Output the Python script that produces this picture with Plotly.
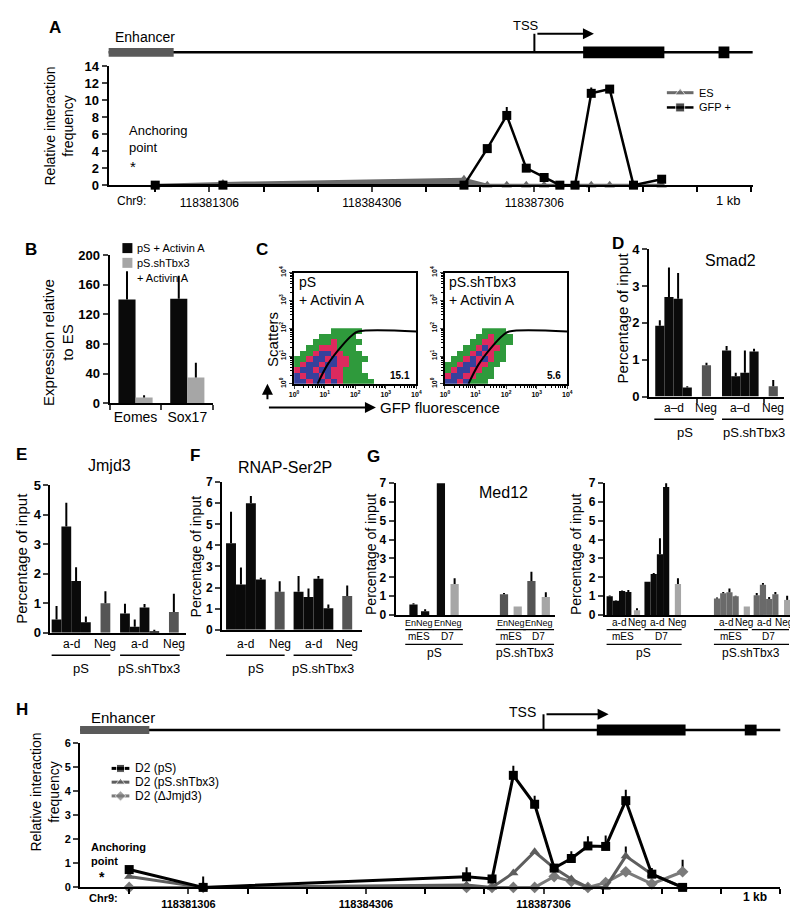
import numpy as np
import plotly.graph_objects as go

W, H = 798, 911
FONT = 'Liberation Sans'

# ---------------- data ----------------
# A / H: 3C fragments, position in kb relative to Chr9:118381306
frag_kb = [-1.0, 0.25, 4.7, 5.13, 5.49, 5.85, 6.18, 6.47, 6.75, 7.05, 7.39, 7.83, 8.35]
a_es = [0, 0.2, 0.7, 0, 0, 0, 0, 0, 0, 0, 0, 0, 0]
a_gfp = [0, 0, 0, 4.3, 8.2, 2.0, 0.9, 0, 0, 10.8, 11.3, 0, 0.7]
a_gfp_err = [0, 0, 0, 0.4, 1.0, 0, 0, 0, 0, 0.7, 0.3, 0, 0.2]

h_ps = [0.74, 0, 0.44, 0.35, 4.65, 3.45, 0.8, 1.2, 1.72, 1.7, 3.6, 0.55, 0]
h_ps_err = [0.05, 0.45, 0.4, 0, 0.4, 0.35, 0, 0.3, 0.4, 0.45, 0.45, 0.25, 0]
h_tbx = [0.45, 0, 0.1, 0, 0.6, 1.48, 0.8, 0.35, 0, 0, 1.3, 0.55, 0]
h_tbx_err = [0, 0, 0, 0, 0, 0, 0, 0, 0, 0, 0.4, 0, 0]
h_jmjd = [0, 0, 0, 0, 0, 0, 0.45, 0.25, 0, 0.2, 0.65, 0.15, 0.65]
h_jmjd_err = [0, 0, 0, 0, 0, 0, 0, 0, 0, 0, 0, 0, 0.5]

kb_major = [0, 3, 6]
kb_labels = ['118381306', '118384306', '118387306']
kb_minor = [-1, 1, 2, 4, 5, 7, 8, 9, 10]
track_kb = [-1.9, 10.1]
enhancer_kb = [-1.9, -0.66]
tss_kb = 6.0
tss_arrow_kb = 7.1
exon_kb = [6.9, 8.4]
exon2_kb = [9.4, 9.6]

# B: expression relative to ES
b_genes = ['Eomes', 'Sox17']
b_ps = [140, 141]
b_ps_err = [38, 31]
b_sh = [8, 35]
b_sh_err = [3, 20]

# C: FACS density class on a 0.2-decade grid (0 empty, 1 sparse, 2 medium, 3 dense)
c_ps_grid = [
    [3, 3, 2, 3, 3, 2, 3, 2, 1, 1, 1, 1, 1, 0],
    [3, 2, 3, 3, 2, 3, 2, 2, 1, 1, 1, 1, 0, 0],
    [2, 3, 3, 2, 3, 3, 2, 2, 1, 1, 1, 0, 0, 0],
    [1, 2, 3, 3, 2, 3, 3, 2, 2, 1, 1, 0, 0, 0],
    [1, 1, 2, 3, 3, 2, 3, 2, 2, 1, 1, 1, 0, 0],
    [0, 1, 1, 2, 3, 3, 2, 2, 1, 1, 1, 0, 0, 0],
    [0, 0, 1, 1, 2, 2, 2, 1, 1, 1, 0, 0, 0, 0],
    [0, 0, 0, 1, 1, 1, 2, 1, 1, 1, 1, 0, 0, 0],
    [0, 0, 0, 0, 1, 1, 1, 1, 1, 1, 0, 0, 0, 0],
    [0, 0, 0, 0, 0, 0, 1, 1, 1, 1, 1, 0, 0, 0],
]
c_sh_grid = [
    [3, 3, 2, 3, 1, 1, 1, 0, 0, 0, 0, 0, 0, 0],
    [2, 3, 3, 2, 2, 1, 1, 1, 0, 0, 0, 0, 0, 0],
    [1, 2, 3, 3, 2, 2, 1, 1, 0, 0, 0, 0, 0, 0],
    [1, 1, 2, 3, 3, 2, 2, 1, 1, 0, 0, 0, 0, 0],
    [0, 1, 1, 2, 3, 2, 3, 2, 1, 1, 0, 0, 0, 0],
    [0, 0, 1, 1, 2, 3, 2, 2, 1, 1, 0, 0, 0, 0],
    [0, 0, 0, 1, 1, 2, 3, 2, 2, 1, 0, 0, 0, 0],
    [0, 0, 0, 0, 1, 1, 2, 2, 1, 1, 1, 0, 0, 0],
    [0, 0, 0, 0, 0, 1, 1, 2, 1, 1, 1, 0, 0, 0],
    [0, 0, 0, 0, 0, 0, 1, 1, 1, 1, 0, 0, 0, 0],
]
gate_x = [0.77, 1.1, 1.55, 1.9, 2.1, 4.0]
gate_y = [0, 0.7, 1.35, 1.75, 1.88, 1.88]
c_pct = ['15.1', '5.6']

# D: Smad2 ChIP
d_vals = [1.92, 2.7, 2.65, 0.25, 0.85, 1.25, 0.55, 0.65, 1.22, 0.28]
d_err = [0.15, 0.8, 0.7, 0.03, 0.07, 0.12, 0.1, 0.6, 0.08, 0.17]
# E: Jmjd3 ChIP
e_vals = [0.45, 3.6, 1.75, 0.35, 1.0, 0.65, 0.2, 0.85, 0.05, 0.7]
e_err = [0.45, 0.8, 0.47, 0.2, 0.4, 0.33, 0.25, 0.12, 0.05, 0.62]
# F: RNAP-Ser2P ChIP
f_vals = [4.1, 2.15, 6.0, 2.38, 1.8, 1.8, 1.55, 2.42, 1.02, 1.6]
f_err = [1.5, 0.8, 0.35, 0.08, 0.5, 0.75, 0.4, 0.13, 0.18, 0.5]
# G: Med12 ChIP, enhancer / Neg
g1_vals = [0.55, 0.2, 7.1, 1.65, 1.1, 0.45, 1.8, 0.95]
g1_err = [0.07, 0.1, 0.25, 0.3, 0.07, 0.0, 0.5, 0.25]
# G: Med12 ChIP, promoter a-d / Neg
g2_vals = [1.0, 0.75, 1.27, 1.22, 0.25, 1.77, 2.18, 3.22, 6.8, 1.65,
           0.88, 1.15, 1.2, 1.0, 0.45, 1.05, 1.6, 0.85, 1.1, 0.8]
g2_err = [0.03, 0.03, 0.03, 0.1, 0.1, 0.0, 0.05, 0.85, 1.4, 0.3,
          0.05, 0.07, 0.2, 0.02, 0.0, 0.12, 0.1, 0.1, 0.12, 0.22]

# ---------------- layout helpers ----------------
BLACK, DGRAY, MGRAY, LGRAY = '#0a0a0a', '#555555', '#6a6a6a', '#a6a6a6'

fig = go.Figure()
ann, shp, lay = [], [], {}


def xd(a, b):
    return [a / W, b / W]


def yd(top, bottom):
    return [1 - bottom / H, 1 - top / H]


def axname(kind, n):
    return kind if n == 1 else f'{kind}{n}'


def set_axes(n, xdom, ydom, xopts, yopts):
    base = dict(showline=True, linecolor='black', linewidth=2, showgrid=False, zeroline=False)
    lay[axname('xaxis', n)] = {**base, 'domain': xd(*xdom), 'anchor': axname('y', n), **xopts}
    lay[axname('yaxis', n)] = {**base, 'domain': yd(*ydom), 'anchor': axname('x', n), **yopts}


def txt(s, x, y, size=13, bold=False, xanchor='center', angle=0, xref='paper'):
    ann.append(dict(text=s, x=x / W if xref == 'paper' else x, y=1 - y / H, xref=xref, yref='paper',
                    showarrow=False, xanchor=xanchor, yanchor='middle', textangle=angle,
                    align='left' if xanchor == 'left' else 'center',
                    font=dict(family=FONT, size=size, color='black', weight='bold' if bold else 'normal')))


def hline(xref, a, b, y, width=1.5):
    shp.append(dict(type='line', xref=xref, yref='paper', x0=a, x1=b, y0=1 - y / H, y1=1 - y / H,
                    line=dict(color='black', width=width)))


def err(e):
    return dict(type='data', array=e, arrayminus=[0] * len(e), symmetric=False,
                color='black', thickness=2, width=0)


def arrow(xref, x, y, ax, ay, ayref='pixel'):
    ann.append(dict(x=x, y=y, xref=xref, yref='paper', ax=ax, ay=ay,
                    axref=xref if xref != 'paper' else 'pixel', ayref=ayref, text=' ',
                    showarrow=True, arrowhead=2, arrowsize=1.1, arrowwidth=2, arrowcolor='black'))


# full-page overlay axis (pixel units) used only for hand-drawn legend keys
lay['xaxis11'] = dict(domain=[0, 1], range=[0, W], visible=False, anchor='y11', fixedrange=True)
lay['yaxis11'] = dict(domain=[0, 1], range=[H, 0], visible=False, anchor='x11', fixedrange=True)


def key_line(x0, x1, y, label, color, sym, lw=3, size=9, fsize=12):
    fig.add_trace(go.Scatter(x=[x0, (x0 + x1) / 2, x1], y=[y, y, y], mode='lines+markers',
                             line=dict(color=color, width=lw),
                             marker=dict(symbol=sym, size=[0, size, 0], color=color),
                             xaxis='x11', yaxis='y11', showlegend=False, hoverinfo='skip'))
    txt(label, x1 + 4, y, fsize, xanchor='left')


def key_box(x, y, label, color, fsize=12):
    fig.add_trace(go.Scatter(x=[x], y=[y], mode='markers',
                             marker=dict(symbol='square', size=10, color=color),
                             xaxis='x11', yaxis='y11', showlegend=False, hoverinfo='skip'))
    txt(label, x + 8, y, fsize, xanchor='left')


YTICK = dict(ticks='outside', ticklen=5, tickwidth=2)
NOX = dict(ticks='', showticklabels=False)


def bar_panel(n, xdom, ydom, xr, ymax, slots, vals, errs, colors, width=1.0, xopts=None, tfs=13):
    fig.add_trace(go.Bar(x=slots, y=vals, width=width, marker=dict(color=colors, line_width=0),
                         error_y=err(errs), xaxis=axname('x', n), yaxis=axname('y', n),
                         showlegend=False, cliponaxis=False))
    set_axes(n, xdom, ydom, {'range': xr, **(xopts or NOX)},
             {'range': [0, ymax], 'dtick': 1, **YTICK, 'tickfont': dict(size=tfs, weight='bold')})


def gene_track(xref, y_line, y_box, y_tss, h_enh, h_exon):
    hline(xref, track_kb[0], track_kb[1], y_line, 2.5)
    shp.append(dict(type='rect', xref=xref, yref='paper', x0=enhancer_kb[0], x1=enhancer_kb[1],
                    y0=1 - (y_box + h_enh) / H, y1=1 - (y_box - h_enh) / H,
                    fillcolor='#5a5a5a', line_width=0))
    for ex in (exon_kb, exon2_kb):
        shp.append(dict(type='rect', xref=xref, yref='paper', x0=ex[0], x1=ex[1],
                        y0=1 - (y_box + h_exon) / H, y1=1 - (y_box - h_exon) / H,
                        fillcolor='black', line_width=0))
    shp.append(dict(type='line', xref=xref, yref='paper', x0=tss_kb, x1=tss_kb,
                    y0=1 - y_line / H, y1=1 - y_tss / H, line=dict(color='black', width=2)))
    arrow(xref, tss_arrow_kb, 1 - y_tss / H, tss_kb, 0)


def kb_axis(font):
    return dict(tickvals=kb_major, ticktext=kb_labels, ticks='outside', ticklen=5, tickwidth=1.5,
                tickfont=font,
                minor=dict(tickvals=kb_minor, ticks='outside', ticklen=5, tickwidth=1.5,
                           tickcolor='black'))


# ---------------- A ----------------
fig.add_trace(go.Scatter(x=frag_kb, y=a_es, name='ES', mode='lines+markers', cliponaxis=False,
                         line=dict(color=MGRAY, width=3), showlegend=False, fill='tozeroy',
                         fillcolor=MGRAY, marker=dict(symbol='triangle-up', size=9, color=MGRAY)))
fig.add_trace(go.Scatter(x=frag_kb, y=a_gfp, name='GFP +', mode='lines+markers', cliponaxis=False,
                         line=dict(color='black', width=2.5), error_y=err(a_gfp_err), showlegend=False,
                         marker=dict(symbol='square', size=9, color='black')))
set_axes(1, (97, 750), (52, 173),
         dict(range=[-1.86, 10.03], **kb_axis(dict(size=12))),
         dict(range=[0, 14], dtick=2, ticks='outside', ticklen=5, tickwidth=2,
              tickfont=dict(size=13, weight='bold')))
gene_track('x', 38, 38, 19, 4.5, 6)
txt('A', 43, 13, 17, True)
txt('Enhancer', 101, 22, 14, xanchor='left')
txt('TSS', 520, 11, 13)
txt('Relative interaction<br>frequency', 47, 113, 14, angle=-90)
txt('Anchoring<br>point', 116, 126, 13, xanchor='left')
txt('*', 117, 154, 15, xanchor='left')
txt('Chr9:', 120, 189, 12)
txt('1 kb', 726, 189, 13)
key_line(663, 690, 79, 'ES', MGRAY, 'triangle-up', fsize=11)
key_line(663, 690, 94, 'GFP +', 'black', 'square', 2.5, fsize=11)

# ---------------- B ----------------
fig.add_trace(go.Bar(x=b_genes, y=b_ps, name='pS + Activin A', marker=dict(color=BLACK, line_width=0),
                     error_y=err(b_ps_err), xaxis='x2', yaxis='y2', showlegend=False))
fig.add_trace(go.Bar(x=b_genes, y=b_sh, name='pS.shTbx3 + Activin A',
                     marker=dict(color=LGRAY, line_width=0), showlegend=False,
                     error_y=err(b_sh_err), xaxis='x2', yaxis='y2'))
set_axes(2, (98, 203), (244, 395),
         dict(type='category', ticks='outside', tickson='boundaries', ticklen=5, tickwidth=2,
              tickangle=0, tickfont=dict(size=14)),
         dict(range=[0, 200], dtick=40, **YTICK, tickfont=dict(size=13, weight='bold')))
txt('B', 18, 238, 17, True)
txt('Expression relative<br>to ES', 46, 333, 15, angle=-90)
key_box(116, 237, 'pS + Activin A', BLACK, 11)
key_box(116, 252, 'pS.shTbx3', LGRAY, 11)
txt('+ Activin A', 124, 267, 11, xanchor='left')

# ---------------- C ----------------
cell = 0.2
cx = np.arange(len(c_ps_grid[0])) * cell + cell / 2
cy = np.arange(len(c_ps_grid)) * cell + cell / 2
dens_scale = [[0, '#2f9a3c'], [1 / 3, '#2f9a3c'], [1 / 3, '#dd2a5e'], [2 / 3, '#dd2a5e'],
              [2 / 3, '#36419c'], [1, '#36419c']]
decade_txt = [f'10<sup>{k}</sup>' for k in range(5)]
minor_vals = [k + np.log10(m) for k in range(4) for m in range(2, 10)]
for n, grid, dom, pct in ((3, c_ps_grid, (285, 409), c_pct[0]), (4, c_sh_grid, (438, 562), c_pct[1])):
    z = np.array(grid, dtype=float)
    z[z == 0] = np.nan
    fig.add_trace(go.Heatmap(x=cx, y=cy, z=z, colorscale=dens_scale, zmin=0.5, zmax=3.5,
                             showscale=False, xaxis=f'x{n}', yaxis=f'y{n}', hoverinfo='skip'))
    fig.add_trace(go.Scatter(x=gate_x, y=gate_y, mode='lines', line=dict(color='black', width=2),
                             xaxis=f'x{n}', yaxis=f'y{n}', showlegend=False, line_shape='spline'))
    axo = dict(range=[0, 4], tickvals=list(range(5)), ticktext=decade_txt, ticks='outside', ticklen=3,
               tickwidth=1, tickfont=dict(size=7, weight='bold'), mirror=True, linewidth=1.8,
               minor=dict(tickvals=minor_vals, ticks='outside', ticklen=2, tickcolor='black'))
    set_axes(n, dom, (262, 375), dict(axo), dict(axo, tickangle=-90))
    txt(pct, dom[1] - 4, 367, 10, True, xanchor='right')
txt('pS<br>+ Activin A', 288, 281, 14, xanchor='left')
txt('pS.shTbx3<br>+ Activin A', 440, 281, 14, xanchor='left')
txt('C', 252, 238, 17, True)
txt('Scatters', 263, 330, 15, angle=-90)
txt('GFP fluorescence', 370, 399, 15, xanchor='left')
arrow('paper', 258 / W, 1 - 375 / H, 0, 24)
arrow('paper', 368 / W, 1 - 399 / H, -110, 0)

# ---------------- D ----------------
d_slots = [0, 1, 2, 3, 5.1, 7.3, 8.3, 9.3, 10.3, 12.4]
d_cols = [BLACK] * 4 + [DGRAY] + [BLACK] * 4 + [DGRAY]
bar_panel(5, (645, 782), (238, 388), [-1.17, 13.6], 4, d_slots, d_vals, d_err, d_cols,
          xopts=dict(tickvals=[4.1, 11.4], ticks='outside', ticklen=4, tickwidth=2, showticklabels=False))
txt('D', 613, 232, 17, True)
txt('Smad2', 728, 250, 16)
txt('Percentage of input', 618, 308, 15, angle=-90)
for s, x in (('a–d', 1.5), ('Neg', 5.1), ('a–d', 8.8), ('Neg', 12.4)):
    txt(s, x, 400, 12, xref='x5')
hline('x5', -0.6, 5.9, 411)
hline('x5', 6.8, 13.5, 411)
txt('pS', 2.8, 424, 13, xref='x5')
txt('pS.shTbx3', 10.3, 424, 13, xref='x5')

# ---------------- E ----------------
e_slots = [0, 1, 2, 3, 5, 7, 8, 9, 10, 12]
e_cols = [BLACK] * 4 + [DGRAY] + [BLACK] * 4 + [DGRAY]
bar_panel(6, (38, 175), (478, 628), [-0.62, 13.2], 5, e_slots, e_vals, e_err, e_cols)
txt('E', 9, 447, 17, True)
txt('Jmjd3', 98, 458, 16)
txt('Percentage of input', 9, 552, 15, angle=-90)
for s, x in (('a-d', 1.5), ('Neg', 5), ('a-d', 8.5), ('Neg', 12)):
    txt(s, x, 640, 12, xref='x6')
hline('x6', -0.5, 5.5, 651)
hline('x6', 6.5, 12.6, 651)
txt('pS', 2.5, 664, 13, xref='x6')
txt('pS.shTbx3', 9.5, 664, 13, xref='x6')

# ---------------- F ----------------
f_slots = [0, 1, 2, 3, 4.9, 6.8, 7.8, 8.8, 9.8, 11.7]
f_cols = [BLACK] * 4 + [DGRAY] + [BLACK] * 4 + [DGRAY]
bar_panel(7, (212, 354), (475, 625), [-0.9, 13.2], 7, f_slots, f_vals, f_err, f_cols, tfs=12)
txt('F', 185, 448, 17, True)
txt('RNAP-Ser2P', 276, 460, 16)
txt('Percentage of input', 186, 550, 14, angle=-90)
for s, x in (('a-d', 1.5), ('Neg', 4.9), ('a-d', 8.3), ('Neg', 11.7)):
    txt(s, x, 640, 12, xref='x7')
hline('x7', -0.5, 5.4, 651)
hline('x7', 6.3, 12.2, 651)
txt('pS', 2.5, 664, 13, xref='x7')
txt('pS.shTbx3', 9.3, 664, 13, xref='x7')

# ---------------- G (enhancer) ----------------
g1_slots = [0, 1.7, 4, 6, 13.2, 15.2, 17.2, 19.3]
g1_cols = [BLACK, BLACK, BLACK, LGRAY, DGRAY, LGRAY, DGRAY, LGRAY]
bar_panel(8, (388, 550), (476, 610), [-2.6, 20.7], 7, g1_slots, g1_vals, g1_err, g1_cols, width=1.2,
          tfs=12)
txt('G', 366, 449, 17, True)
txt('Med12', 497, 485, 16)
txt('Percentage of input', 363, 548, 14, angle=-90)
for a, b, c in ((0, 1.7, 'mES'), (4, 6, 'D7'), (13.2, 15.2, 'mES'), (17.2, 19.3, 'D7')):
    txt('EnNeg', (a + b) / 2, 618, 9, xref='x8')
    hline('x8', a - 1.2, b + 1.2, 625, 1.2)
    txt(c, (a + b) / 2, 632, 10, xref='x8')
hline('x8', -1.2, 7.2, 640, 1.2)
hline('x8', 12.0, 20.5, 640, 1.2)
txt('pS', 3, 649, 12, xref='x8')
txt('pS.shTbx3', 16.2, 649, 12, xref='x8')

# ---------------- G (promoter) ----------------
g2_slots = [0, 1, 2, 3, 4.4, 6.1, 7.1, 8.1, 9.1, 11.0,
            17.3, 18.3, 19.3, 20.3, 22.1, 23.7, 24.7, 25.7, 26.7, 28.6]
g2_cols = ([BLACK] * 4 + [LGRAY] + [BLACK] * 4 + [LGRAY]
           + [MGRAY] * 4 + [LGRAY] + [MGRAY] * 4 + [LGRAY])
bar_panel(9, (600, 790), (476, 610), [-0.8, 29.4], 7, g2_slots, g2_vals, g2_err, g2_cols, tfs=12)
txt('Percentage of input', 571, 548, 14, angle=-90)
for base in (0, 17.3):
    for s, x in (('a-d', 1.5), ('Neg', 4.4), ('a-d', 7.6), ('Neg', 10.8)):
        txt(s, base + x, 618, 10, xref='x9')
    hline('x9', base - 0.5, base + 5.0, 625, 1.2)
    hline('x9', base + 5.6, base + 11.6, 625, 1.2)
    txt('mES', base + 2.2, 632, 10, xref='x9')
    txt('D7', base + 8.3, 632, 10, xref='x9')
    hline('x9', base - 0.5, base + 11.6, 640, 1.2)
txt('pS', 5.5, 649, 12, xref='x9')
txt('pS.shTbx3', 22.8, 649, 12, xref='x9')

# ---------------- H ----------------
h_series = (('D2 (ΔJmjd3)', h_jmjd, h_jmjd_err, '#7a7a7a', 'diamond'),
            ('D2 (pS.shTbx3)', h_tbx, h_tbx_err, '#5e5e5e', 'triangle-up'),
            ('D2 (pS)', h_ps, h_ps_err, 'black', 'square'))
for name, vals, e, col, sym in h_series:
    fig.add_trace(go.Scatter(x=frag_kb, y=vals, name=name, mode='lines+markers', cliponaxis=False,
                             line=dict(color=col, width=3), error_y=err(e), showlegend=False,
                             marker=dict(symbol=sym, size=9, color=col), xaxis='x10', yaxis='y10'))
for (name, _, _, col, sym), y in zip(h_series[::-1], (766, 780, 794)):
    key_line(100, 118, y, name, col, sym, 3, 8, 12)
set_axes(10, (68, 778), (740, 887),
         dict(range=[-1.83, 10.0], **kb_axis(dict(size=11, weight='bold'))),
         dict(range=[0, 6], dtick=1, ticks='outside', ticklen=5, tickwidth=2,
              tickfont=dict(size=11, weight='bold')))
gene_track('x10', 727, 727, 711, 4, 5.5)
txt('H', 9, 706, 17, True)
txt('Enhancer', 77, 714, 15, xanchor='left')
txt('TSS', 517, 709, 14)
txt('Relative interaction<br>frequency', 32, 790, 14, angle=-90)
txt('Anchoring<br>point', 77, 853, 11, True, xanchor='left')
txt('*', 90, 876, 14, True)
txt('Chr9:', 92, 898, 11, True)
txt('1 kb', 752, 897, 12, True)

fig.update_layout(
    width=W, height=H, margin=dict(l=0, r=0, t=0, b=0),
    paper_bgcolor='white', plot_bgcolor='rgba(0,0,0,0)',
    font=dict(family=FONT, size=12, color='black'),
    barmode='group', bargap=0.34, bargroupgap=0, showlegend=False,
    annotations=ann, shapes=shp, **lay,
)

fig.write_html('out.html')
